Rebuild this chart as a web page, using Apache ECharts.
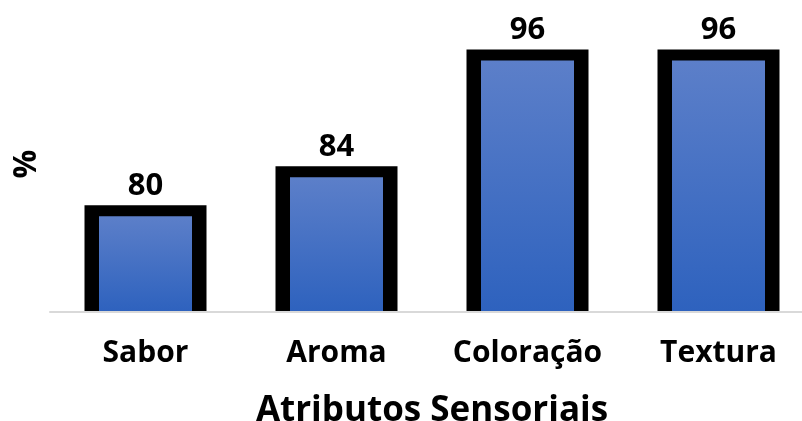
<!DOCTYPE html>
<html>
<head>
<meta charset="utf-8">
<script src="https://cdn.jsdelivr.net/npm/echarts@6/dist/echarts.min.js"></script>
<style>html,body{margin:0;padding:0;background:#fff}#c{width:802px;height:421px}</style>
</head>
<body>
<div id="c"></div>
<script>
const categories = ['Sabor', 'Aroma', 'Coloração', 'Textura'];
const values = [80, 84, 96, 96];
const xTitle = 'Atributos Sensoriais';
const yTitle = '%';

const FONT = "'Open Sans', 'Noto Sans', sans-serif";
const Y_MIN = 69.6, Y_MAX = 100;

const chart = echarts.init(document.getElementById('c'), null, {renderer: 'canvas'});
chart.setOption({
  animation: false,
  backgroundColor: '#fff',
  grid: {left: 50, top: 16, width: 764, bottom: 109, outerBoundsMode: 'none', containLabel: false},
  xAxis: {
    type: 'category',
    data: categories,
    axisLine: {lineStyle: {color: '#d9d9d9', width: 2}},
    axisTick: {show: false},
    axisLabel: {color: '#000', fontFamily: FONT, fontWeight: 'bold', fontSize: 30, margin: 26, interval: 0, hideOverlap: false},
    name: xTitle,
    nameLocation: 'middle',
    nameGap: 82,
    nameTextStyle: {color: '#000', fontFamily: FONT, fontWeight: 'bold', fontSize: 35}
  },
  yAxis: {
    type: 'value',
    min: Y_MIN, max: Y_MAX,
    axisLine: {show: false}, axisTick: {show: false}, axisLabel: {show: false}, splitLine: {show: false},
    name: yTitle,
    nameLocation: 'middle',
    nameRotate: 90,
    nameGap: 7,
    nameTextStyle: {color: '#000', fontFamily: FONT, fontWeight: 'bold', fontSize: 32}
  },
  series: [{
    type: 'custom',
    data: values.map((v, i) => [i, v]),
    encode: {x: 0, y: 1},
    renderItem: function (params, api) {
      const idx = api.value(0), val = api.value(1);
      const top = api.coord([idx, val]);
      const base = api.coord([idx, Y_MIN]);
      const outerW = 122, innerW = 93, bTop = 5.5;
      const cx = top[0];
      return {
        type: 'group',
        children: [
          {type: 'rect', shape: {x: cx - outerW / 2, y: top[1] - bTop, width: outerW, height: base[1] - top[1] + bTop - 1}, style: {fill: '#000'}},
          {type: 'rect', shape: {x: cx - innerW / 2, y: top[1] + bTop, width: innerW, height: base[1] - top[1] - bTop - 1},
            style: {fill: new echarts.graphic.LinearGradient(0, 0, 0, 1, [{offset: 0, color: '#5c7fc9'}, {offset: 1, color: '#2e62be'}])}},
          {type: 'text', x: cx, y: top[1] - bTop - 4,
            style: {text: String(val), align: 'center', verticalAlign: 'bottom', fill: '#000', font: 'bold 31px ' + FONT}}
        ]
      };
    }
  }]
});
</script>
</body>
</html>
